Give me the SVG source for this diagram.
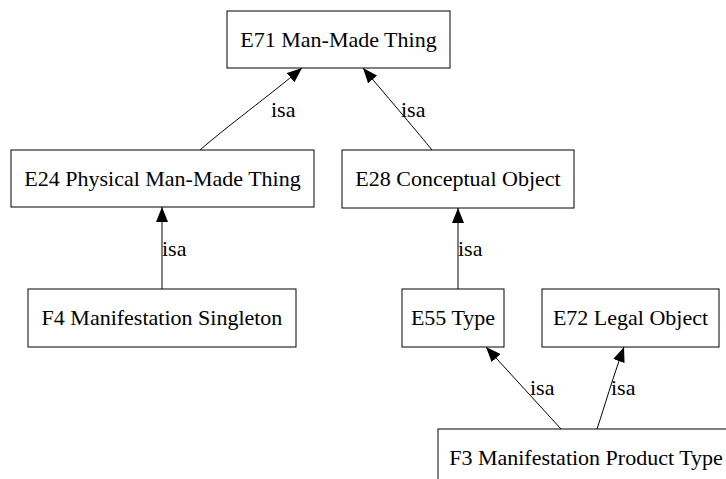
<svg xmlns="http://www.w3.org/2000/svg" width="726" height="479" viewBox="0 0 726 479">
<style>
.node rect{fill:#fff;stroke:#000;stroke-width:1}
.node text{font-family:'Liberation Serif','DejaVu Serif',serif;font-size:22px;fill:#000;text-anchor:middle}
.edge path{fill:none;stroke:#000;stroke-width:1}
.lbl{font-family:'Liberation Serif','DejaVu Serif',serif;font-size:22px;fill:#000}
</style>
<defs>
<marker id="ah" markerUnits="userSpaceOnUse" markerWidth="16" markerHeight="12" refX="15" refY="6" orient="auto">
<path d="M0,0 L15,6 L0,12 z" fill="#000"/>
</marker>
</defs>
<rect width="726" height="479" fill="#fff"/>
<g id="connectors">
<g class="edge"><path d="M200,150 C225,128 270,95 302,68" marker-end="url(#ah)"/><text class="lbl" x="271" y="117">isa</text></g>
<g class="edge"><path d="M432,150 C420,135 390,100 363,68" marker-end="url(#ah)"/><text class="lbl" x="401" y="117">isa</text></g>
<g class="edge"><path d="M162,289 L162,207" marker-end="url(#ah)"/><text class="lbl" x="162" y="256">isa</text></g>
<g class="edge"><path d="M458,289 L458,208" marker-end="url(#ah)"/><text class="lbl" x="458" y="256">isa</text></g>
<g class="edge"><path d="M561,429 L486,347" marker-end="url(#ah)"/><text class="lbl" x="530" y="395">isa</text></g>
<g class="edge"><path d="M597,429 C605,405 612,380 624,347" marker-end="url(#ah)"/><text class="lbl" x="611" y="395">isa</text></g>
</g>
<g id="E71" class="node"><rect x="227" y="11" width="223" height="57"/><text x="338.5" y="47">E71 Man-Made Thing</text></g>
<g id="E24" class="node"><rect x="11" y="150" width="303" height="57"/><text x="162.5" y="186">E24 Physical Man-Made Thing</text></g>
<g id="E28" class="node"><rect x="342" y="150" width="232" height="58"/><text x="458" y="186">E28 Conceptual Object</text></g>
<g id="F4" class="node"><rect x="28" y="289" width="268" height="58"/><text x="162" y="325">F4 Manifestation Singleton</text></g>
<g id="E55" class="node"><rect x="402" y="289" width="102" height="58"/><text x="453" y="325">E55 Type</text></g>
<g id="E72" class="node"><rect x="542" y="289" width="177" height="58"/><text x="630.5" y="325">E72 Legal Object</text></g>
<g id="F3" class="node"><rect x="438" y="429" width="296" height="58"/><text x="586" y="465">F3 Manifestation Product Type</text></g>
</svg>
